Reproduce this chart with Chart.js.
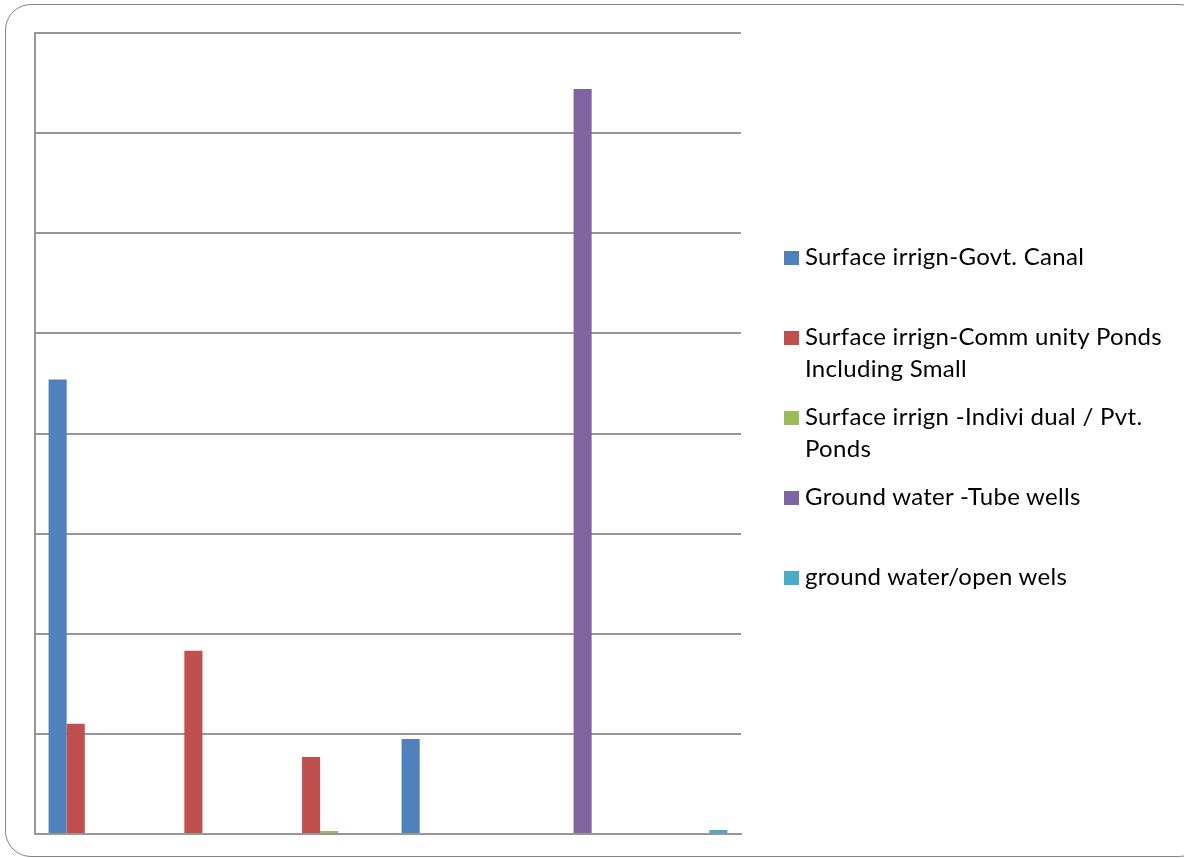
<!DOCTYPE html>
<html>
<head>
	<meta charset="utf-8">
	<script type="text/javascript" src="https://cdn.jsdelivr.net/npm/chart.js@4/dist/chart.umd.min.js"></script>
	<style type="text/css">

	body{
		margin: 0;
		font-family: Lato, "Open Sans", sans-serif;
		background: #fff;
	}

	#frame{
		position: absolute;
		left: 5px;
		top: 4px;
		width: 1200px;
		height: 853px;
		border: 1.5px solid #858585;
		border-radius: 26px;
		box-sizing: border-box;
	}

	#canvas-holder{
		position: absolute;
		left: 0;
		top: 0;
		width: 1184px;
		height: 858px;
	}

	.chart-legend{
		position: absolute;
		left: 784px;
		top: 240px;
		width: 400px;
	}

	.chart-legend ul{
		margin: 0;
		padding: 0;
	}

	.chart-legend li{
		list-style-type: none;
		display: flex;
		align-items: flex-start;
		height: 80px;
		font-size: 24px;
		letter-spacing: 0.3px;
		line-height: 32px;
		color: #000;
	}

	.chart-legend li span.box{
		flex: none;
		width: 15px;
		height: 14px;
		margin-top: 11px;
		margin-right: 6px;
	}

	.chart-legend li span.txt{
		width: 372px;
	}
	</style>
</head>
<body>
	<div id="frame"></div>
	<div id="canvas-holder">
		<canvas id="chart-area"></canvas>
	</div>
	<div id="js-legend" class="chart-legend"></div>

	<script>

	var categories = ['1', '2', '3', '4', '5', '6'];

	var seriesNames = [
		'Surface irrign-Govt. Canal',
		'Surface irrign-Comm unity Ponds Including Small',
		'Surface irrign -Indivi dual / Pvt. Ponds',
		'Ground water -Tube wells',
		'ground water/open wels'
	];

	var govtCanal     = [45.4, null, null, 9.5, null, null];
	var communityPond = [11.0, 18.3, 7.7, null, null, null];
	var privatePond   = [null, null, 0.3, null, null, null];
	var tubeWells     = [null, null, null, null, 74.4, null];
	var openWells     = [null, null, null, null, null, 0.4];

	var colors = ['#4F81BD', '#C0504D', '#9BBB59', '#8064A2', '#4BACC6'];

	var seriesValues = [govtCanal, communityPond, privatePond, tubeWells, openWells];

	var gridColor = '#979797';

	var datasets = [];
	for (var i = 0; i < seriesNames.length; i++) {
		datasets.push({
			label: seriesNames[i],
			data: seriesValues[i],
			backgroundColor: colors[i],
			borderWidth: 0,
			barPercentage: 1.0,
			categoryPercentage: 5 / 6.5
		});
	}

	var config = {
		type: 'bar',
		data: {
			labels: categories,
			datasets: datasets
		},
		options: {
			responsive: true,
			maintainAspectRatio: false,
			animation: false,
			layout: {
				padding: { left: 35, top: 33, right: 443, bottom: 24 }
			},
			plugins: {
				legend: { display: false },
				tooltip: { enabled: false }
			},
			scales: {
				x: {
					grid: { display: false, drawTicks: false },
					border: { display: true, color: gridColor, width: 2 },
					ticks: { display: false }
				},
				y: {
					min: 0,
					max: 80,
					grid: { color: gridColor, lineWidth: 2, drawTicks: false, tickLength: 0 },
					border: { display: true, color: gridColor, width: 2 },
					ticks: { display: false, stepSize: 10 }
				}
			}
		}
	};

	window.onload = function() {
		var ctx = document.getElementById('chart-area').getContext('2d');
		var chart = new Chart(ctx, config);

		var text = '<ul>';
		for (var i = 0; i < seriesNames.length; i++) {
			text += "<li><span class='box' style='background-color:" + colors[i] + "'></span><span class='txt'>" + seriesNames[i] + "</span></li>";
		}
		text += '</ul>';
		document.getElementById('js-legend').innerHTML = text;
	};

	</script>
</body>
</html>
